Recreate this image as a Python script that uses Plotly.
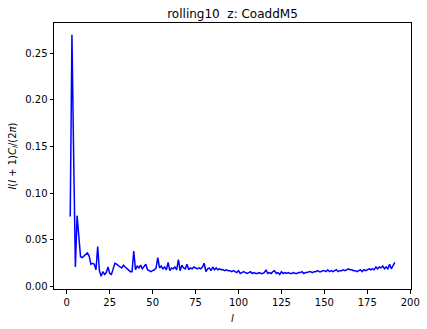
import plotly.graph_objects as go

ell = list(range(2, 192))
cl = [
    0.075, 0.270, 0.140, 0.021, 0.076, 0.050, 0.032, 0.031, 0.033, 0.035,
    0.036, 0.033, 0.024, 0.025, 0.024, 0.018, 0.043, 0.017, 0.011, 0.016,
    0.013, 0.015, 0.021, 0.014, 0.013, 0.019, 0.025, 0.024, 0.022, 0.021,
    0.020, 0.023, 0.021, 0.019, 0.017, 0.016, 0.016, 0.038, 0.018, 0.022,
    0.020, 0.023, 0.019, 0.021, 0.024, 0.018, 0.017, 0.016, 0.017, 0.018,
    0.020, 0.031, 0.020, 0.022, 0.019, 0.021, 0.018, 0.026, 0.017, 0.020,
    0.019, 0.021, 0.018, 0.029, 0.017, 0.023, 0.020, 0.019, 0.024, 0.018,
    0.020, 0.019, 0.021, 0.020, 0.019, 0.020, 0.019, 0.021, 0.025, 0.016,
    0.019, 0.020, 0.017, 0.021, 0.018, 0.020, 0.018, 0.019, 0.018, 0.018,
    0.017, 0.018, 0.017, 0.017, 0.016, 0.017, 0.016, 0.015, 0.017, 0.014,
    0.015, 0.016, 0.015, 0.014, 0.015, 0.016, 0.014, 0.015, 0.014, 0.014,
    0.015, 0.014, 0.014, 0.015, 0.018, 0.014, 0.015, 0.014, 0.016, 0.017,
    0.014, 0.015, 0.013, 0.016, 0.014, 0.015, 0.014, 0.015, 0.014, 0.014,
    0.015, 0.014, 0.014, 0.015, 0.015, 0.016, 0.014, 0.015, 0.015, 0.016,
    0.016, 0.015, 0.016, 0.016, 0.017, 0.016, 0.016, 0.017, 0.017, 0.016,
    0.018, 0.016, 0.017, 0.016, 0.017, 0.018, 0.016, 0.017, 0.017, 0.018,
    0.017, 0.018, 0.019, 0.018, 0.018, 0.017, 0.017, 0.016, 0.017, 0.018,
    0.016, 0.018, 0.017, 0.018, 0.019, 0.018, 0.019, 0.018, 0.021, 0.019,
    0.021, 0.020, 0.022, 0.019, 0.021, 0.019, 0.024, 0.019, 0.022, 0.026,
]

x_ticks = [0, 25, 50, 75, 100, 125, 150, 175, 200]
y_ticks = [0.00, 0.05, 0.10, 0.15, 0.20, 0.25]
y_tick_labels = ["0.00", "0.05", "0.10", "0.15", "0.20", "0.25"]
title_text = "rolling10  z: CoaddM5"
x_label = "<i>l</i>"
y_label = "<i>l</i>(<i>l</i> + 1)<i>C<sub>l</sub></i>/(2<i>π</i>)"

font = "DejaVu Sans, sans-serif"

fig = go.Figure()
fig.add_trace(go.Scatter(x=ell, y=cl, mode="lines",
                         line=dict(color="#0000ff", width=1.5)))

axis_common = dict(showline=True, linecolor="black", linewidth=1, mirror=True,
                   ticks="outside", ticklen=3.5, tickwidth=1, tickcolor="black",
                   showgrid=False, zeroline=False, automargin=False,
                   tickfont=dict(family=font, size=10, color="black"))

fig.update_layout(
    width=427, height=329,
    margin=dict(l=54, r=16, t=23, b=40),
    paper_bgcolor="white", plot_bgcolor="white",
    showlegend=False,
    title=dict(text=title_text, x=0.5, xref="paper", xanchor="center",
               y=1, yref="paper", yanchor="bottom", pad=dict(b=5),
               font=dict(family=font, size=12, color="black")),
    xaxis=dict(range=[-7.45, 200.45], tickvals=x_ticks,
               ticktext=[str(v) for v in x_ticks],
               title=dict(text=x_label, standoff=8,
                          font=dict(family=font, size=10, color="black")),
               **axis_common),
    yaxis=dict(range=[-0.0026, 0.2825], tickvals=y_ticks, ticktext=y_tick_labels,
               title=dict(text=y_label, standoff=6,
                          font=dict(family=font, size=10, color="black")),
               **axis_common),
)

fig.write_html("out.html")
